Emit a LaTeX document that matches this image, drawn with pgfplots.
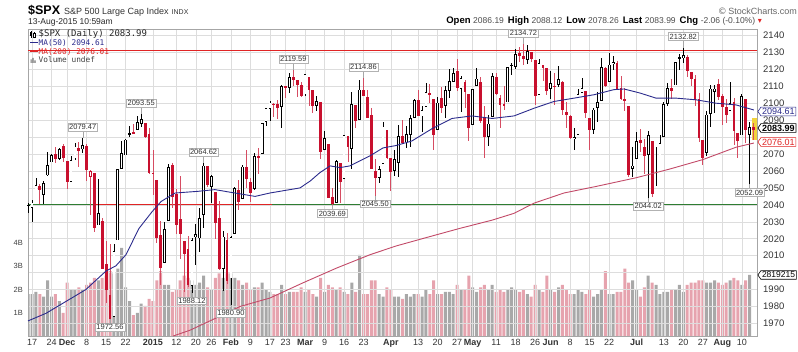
\documentclass[border=0pt]{standalone}
\usepackage{pgfplots}
\pgfplotsset{compat=1.18}
\usepackage{pgfplotstable}
\usetikzlibrary{shapes.symbols}
\usepackage{fontspec}
\setmainfont{Liberation Sans}
\newfontfamily\monofont{DejaVu Sans Mono}
\newfontfamily\symfont{DejaVu Sans}
\newcommand\fs[1]{\fontsize{#1}{#1}\selectfont}

\definecolor{cred}{HTML}{C8102E}
\definecolor{vpink}{HTML}{E6A3AE}
\definecolor{vgray}{HTML}{A8A8A8}
\definecolor{gridc}{HTML}{DDDDDD}
\definecolor{ma50}{HTML}{2B2B8C}
\definecolor{ma200}{HTML}{C24A68}
\definecolor{hred}{HTML}{E02424}
\definecolor{hgreen}{HTML}{2E7D32}
\definecolor{tagyel}{HTML}{F2D33C}

\pgfplotstableread{
i o h l c v
-1 2039.74 2041.09 2035.28 2039.82 1.8
0 2038.29 2043.07 2030.17 2041.32 1.8
1 2041.48 2056.08 2041.48 2051.80 1.9
2 2051.16 2052.14 2040.37 2048.72 1.8
3 2045.87 2053.84 2040.49 2052.75 1.7
4 2057.46 2071.46 2056.75 2063.50 2.4
5 2065.07 2070.17 2065.07 2069.41 1.7
6 2070.15 2074.21 2064.75 2067.03 1.8
7 2067.36 2073.29 2066.62 2072.83 1.5
8 2074.78 2075.76 2065.06 2067.56 1.0
9 2065.78 2065.78 2049.57 2053.44 2.3
10 2053.77 2068.77 2053.77 2066.55 2.0
11 2067.45 2076.28 2066.65 2074.33 2.0
12 2073.64 2077.34 2062.34 2071.92 2.1
13 2072.78 2079.47 2070.81 2075.37 2.0
14 2074.84 2075.78 2054.27 2060.31 2.2
15 2056.55 2060.60 2034.17 2059.82 2.3
16 2058.86 2058.86 2024.26 2026.14 2.5
17 2027.92 2055.53 2027.92 2035.33 2.4
18 2030.36 2032.25 2002.33 2002.33 2.5
19 2005.03 2018.69 1982.26 1989.63 2.6
20 1986.71 2016.89 1972.56 1972.74 2.8
21 1973.77 2016.75 1973.77 2012.89 2.7
22 2018.98 2061.23 2018.98 2061.23 2.9
23 2061.04 2077.85 2061.03 2070.65 3.8
24 2069.28 2078.76 2069.28 2078.54 2.1
25 2081.48 2086.73 2079.77 2082.17 1.5
26 2083.25 2087.56 2081.86 2081.88 0.9
27 2084.30 2092.70 2084.30 2088.77 1.0
28 2087.63 2093.55 2085.75 2090.57 1.4
29 2088.49 2088.49 2079.53 2080.35 1.3
30 2082.11 2085.58 2057.94 2058.90 1.6
31 2058.90 2072.36 2046.04 2058.20 1.5
32 2054.44 2054.44 2017.34 2020.58 2.4
33 2022.15 2030.25 1992.44 2002.61 2.8
34 2005.55 2029.61 2005.55 2025.90 2.2
35 2030.61 2064.08 2030.61 2062.14 2.2
36 2063.45 2064.43 2038.33 2044.81 1.9
37 2046.13 2049.30 2022.58 2028.26 2.0
38 2031.58 2056.93 2008.25 2023.03 2.4
39 2018.40 2018.40 1988.44 2011.27 2.6
40 2013.75 2021.35 1991.47 1992.67 2.5
41 1992.25 2020.46 1988.12 2019.42 2.4
42 2020.76 2028.94 2004.49 2022.55 2.2
43 2020.19 2038.29 2012.04 2032.12 2.3
44 2034.30 2064.62 2026.38 2063.15 2.6
45 2062.98 2062.98 2050.54 2051.82 2.1
46 2050.42 2057.62 2040.97 2057.09 2.0
47 2047.86 2047.86 2019.91 2029.55 2.5
48 2032.34 2042.49 2001.49 2002.16 2.7
49 2002.45 2024.64 1989.18 2021.25 2.5
50 2019.35 2023.32 1993.38 1994.99 2.7
51 1996.67 2021.66 1980.90 2020.85 2.7
52 2022.71 2050.30 2022.71 2050.03 2.5
53 2048.86 2054.74 2036.72 2041.51 2.4
54 2043.45 2063.55 2043.45 2062.52 2.2
55 2062.28 2072.40 2049.97 2055.47 2.3
56 2053.47 2056.16 2041.88 2046.74 2.0
57 2049.38 2070.86 2048.62 2068.59 2.1
58 2068.55 2073.48 2057.99 2068.53 2.1
59 2069.98 2088.53 2069.98 2088.48 2.3
60 2088.78 2097.03 2086.70 2096.99 2.0
61 2096.47 2101.30 2089.80 2100.34 1.9
62 2099.16 2100.23 2092.15 2099.68 1.8
63 2099.25 2102.13 2090.79 2097.45 1.8
64 2097.65 2110.61 2085.44 2110.30 2.2
65 2109.83 2110.05 2103.00 2109.66 1.8
66 2109.10 2117.94 2105.87 2115.48 1.9
67 2115.30 2119.59 2109.89 2113.86 1.9
68 2113.91 2113.91 2103.76 2110.74 1.9
69 2110.88 2112.74 2103.75 2104.50 2.1
70 2105.23 2117.52 2104.50 2117.39 1.9
71 2115.76 2115.76 2098.26 2107.78 2.0
72 2107.72 2107.72 2094.49 2098.53 1.8
73 2098.54 2104.25 2095.22 2101.04 1.7
74 2100.91 2100.91 2067.27 2071.26 2.5
75 2072.25 2083.49 2072.21 2079.43 1.9
76 2076.14 2076.14 2044.16 2044.16 2.2
77 2044.69 2050.08 2039.69 2040.24 2.1
78 2041.10 2066.41 2041.10 2065.95 2.0
79 2064.56 2064.56 2041.17 2053.40 2.1
80 2055.35 2081.41 2055.35 2081.19 1.9
81 2080.59 2080.59 2065.08 2074.28 1.8
82 2072.84 2106.85 2061.23 2099.50 2.3
83 2098.69 2098.69 2085.56 2089.27 1.9
84 2090.32 2113.92 2090.32 2108.10 3.5
85 2107.99 2114.86 2104.42 2104.42 1.8
86 2103.94 2107.63 2091.50 2091.50 1.8
87 2093.10 2097.43 2061.05 2061.05 2.4
88 2059.94 2067.15 2045.50 2056.15 2.4
89 2055.78 2062.83 2052.96 2061.02 1.8
90 2064.11 2088.97 2064.11 2086.24 1.7
91 2084.05 2084.05 2067.04 2067.89 2.1
92 2067.63 2067.63 2048.38 2059.69 2.0
93 2060.03 2072.17 2057.32 2066.96 1.7
94 2064.87 2086.99 2056.52 2080.62 1.7
95 2080.79 2089.81 2076.10 2076.33 1.6
96 2076.94 2086.69 2073.30 2081.90 1.8
97 2081.29 2093.31 2074.29 2091.18 1.7
98 2091.51 2102.61 2091.51 2102.06 1.8
99 2102.03 2107.65 2092.33 2092.43 1.8
100 2092.28 2098.62 2083.24 2095.84 1.7
101 2097.82 2111.91 2097.82 2106.63 2.0
102 2105.96 2111.30 2100.02 2104.99 1.8
103 2102.58 2102.58 2072.37 2081.18 2.4
104 2084.11 2103.94 2084.11 2100.40 1.8
105 2102.82 2109.64 2094.38 2097.29 1.8
106 2098.27 2109.98 2091.05 2107.96 1.9
107 2107.21 2120.49 2103.19 2112.93 1.9
108 2112.80 2120.92 2112.80 2117.69 1.8
109 2119.29 2125.92 2107.04 2108.92 2.2
110 2108.35 2116.04 2094.89 2114.76 2.0
111 2112.49 2113.65 2097.41 2106.85 2.0
112 2105.52 2105.52 2077.59 2085.51 2.6
113 2087.38 2108.41 2087.38 2108.29 2.1
114 2110.23 2120.95 2110.23 2114.49 1.9
115 2112.63 2115.24 2088.46 2089.46 2.1
116 2091.26 2098.42 2067.93 2080.15 2.2
117 2079.96 2092.90 2074.99 2088.00 2.0
118 2092.13 2117.66 2092.13 2116.10 2.2
119 2115.56 2117.69 2104.58 2105.33 1.9
120 2102.87 2105.06 2085.57 2099.12 2.0
121 2099.62 2110.19 2096.04 2098.48 1.9
122 2100.43 2121.45 2100.43 2121.10 2.0
123 2122.07 2123.89 2116.81 2122.73 2.1
124 2121.30 2131.78 2120.01 2129.20 2.0
125 2129.45 2133.02 2124.50 2127.83 1.9
126 2127.79 2134.72 2122.59 2125.85 2.0
127 2125.55 2134.28 2122.95 2130.82 1.8
128 2130.36 2130.36 2124.14 2126.06 1.7
129 2125.34 2125.34 2099.18 2104.20 2.2
130 2105.13 2126.22 2105.13 2123.48 2.0
131 2122.27 2122.27 2112.86 2120.79 1.9
132 2120.66 2120.66 2104.89 2107.39 2.6
133 2108.64 2119.15 2102.54 2111.73 2.0
134 2110.41 2117.59 2099.14 2109.60 1.9
135 2110.64 2121.92 2109.61 2114.07 2.1
136 2112.35 2112.89 2093.23 2095.84 2.2
137 2095.09 2100.99 2085.67 2092.83 2.0
138 2092.34 2093.01 2079.11 2079.28 1.8
139 2079.07 2085.62 2072.14 2080.15 1.8
140 2081.12 2108.50 2081.12 2105.20 2.0
141 2106.24 2115.02 2106.24 2108.86 1.9
142 2107.43 2107.43 2091.33 2094.11 1.8
143 2091.34 2091.34 2072.49 2084.43 2.0
144 2084.26 2097.40 2082.10 2096.29 1.7
145 2097.40 2106.79 2088.86 2100.44 1.8
146 2101.58 2126.65 2101.58 2121.24 2.0
147 2121.06 2121.64 2109.45 2109.99 2.8
148 2112.50 2129.87 2112.50 2122.85 1.8
149 2123.16 2128.03 2119.89 2124.20 1.8
150 2123.65 2125.10 2108.58 2108.58 1.9
151 2109.10 2116.04 2101.78 2102.31 1.9
152 2102.62 2108.92 2095.38 2101.49 2.9
153 2098.63 2098.63 2056.64 2057.64 2.3
154 2061.19 2074.28 2056.32 2063.11 2.4
155 2067.00 2082.78 2067.00 2077.42 2.0
156 2078.03 2085.06 2071.02 2076.78 1.7
157 2073.95 2078.61 2058.40 2068.76 2.1
158 2069.52 2083.74 2044.02 2081.34 2.6
159 2077.66 2077.66 2044.49 2046.68 2.3
160 2049.73 2074.28 2049.73 2051.31 2.2
161 2052.74 2081.31 2052.74 2076.62 1.8
162 2080.03 2100.67 2080.03 2099.60 1.9
163 2099.72 2111.98 2098.18 2108.95 1.9
164 2109.01 2114.14 2102.49 2107.40 2.0
165 2110.55 2124.42 2110.55 2124.29 2.0
166 2126.80 2128.91 2119.88 2126.64 2.2
167 2126.85 2132.82 2123.66 2128.28 1.9
168 2127.55 2128.49 2115.40 2119.21 2.2
169 2118.21 2118.51 2110.00 2114.15 2.3
170 2114.16 2116.87 2098.63 2102.15 2.3
171 2102.24 2106.01 2077.09 2079.65 2.4
172 2078.19 2078.19 2063.52 2067.64 2.4
173 2070.75 2095.60 2069.09 2093.25 2.3
174 2093.52 2110.60 2085.81 2108.57 2.3
175 2106.78 2110.48 2094.08 2108.63 2.4
176 2111.60 2114.24 2102.07 2103.84 2.3
177 2104.49 2105.70 2087.31 2098.04 2.2
178 2097.68 2102.51 2088.60 2093.32 2.3
179 2095.27 2112.66 2095.27 2099.84 2.4
180 2100.75 2103.32 2075.53 2083.56 2.5
181 2082.61 2082.61 2067.91 2077.57 2.4
182 2080.98 2105.35 2080.98 2104.18 2.2
183 2102.66 2102.66 2076.49 2084.07 2.4
184 2081.10 2089.06 2052.09 2086.05 2.63
185 2086.19 2088.12 2078.26 2083.99 0
}\spx

% labelled extremes
\pgfplotstableread{
x y t
13 2079.47 2079.47
28 2093.55 2093.55
44 2064.62 2064.62
67 2119.59 2119.59
85 2114.86 2114.86
126 2134.72 2134.72
167 2132.82 2132.82
}\highs
\pgfplotstableread{
x y t
20 1972.56 1972.56
41 1988.12 1988.12
51 1980.90 1980.90
77 2039.69 2039.69
88 2045.50 2045.50
158 2044.02 2044.02
184 2052.09 2052.09
}\lows

% r = 1 when the close is below the previous close (red), f = 1 when close < open (filled)
\pgfplotstablecreatecol[
  create col/assign first/.code={\pgfkeyssetvalue{/pgfplots/table/create col/next content}{0}},
  create col/assign/.code={%
    \getthisrow{c}\curc
    \getprevrow{c}\prevc
    \pgfmathparse{\curc<\prevc ? 1 : 0}%
    \pgfkeyslet{/pgfplots/table/create col/next content}\pgfmathresult}
]{r}\spx
\pgfplotstablecreatecol[
  create col/assign/.code={%
    \getthisrow{c}\curc
    \getthisrow{o}\curo
    \pgfmathparse{\curc<\curo ? 1 : 0}%
    \pgfkeyslet{/pgfplots/table/create col/next content}\pgfmathresult}
]{f}\spx

\tikzset{
  lbl/.style={draw=black!30, fill=white, draw opacity=1, fill opacity=1, text opacity=1,
    inner sep=1.2pt, font=\fs{7.5}, text=black!80},
}
\pgfplotsset{
  nomark/.style={only marks, mark=*, mark size=0pt,
    mark options={draw opacity=0, fill opacity=0}},
  eb/.style 2 args={nomark, forget plot,
    error bars/y dir=both, error bars/y explicit, error bars/error mark=none,
    error bars/error bar style={draw=#1, line width=#2, draw opacity=1}},
  lblplot/.style={only marks, mark=*, mark size=0pt, mark options={draw=none, fill=none}, forget plot,
    error bars/error mark=none,
    error bars/error bar style={draw=black!35, line width=0.4pt},
    point meta=explicit symbolic, nodes near coords},
}

\begin{document}
\begin{tikzpicture}[x=1pt,y=1pt]
\useasboundingbox (0,0) rectangle (798,351);

% ---------- volume axis ----------
\begin{axis}[
  at={(28pt,15pt)}, anchor=south west, scale only axis,
  width=729pt, height=307pt,
  xmin=-1.03, xmax=185.9, ymin=0, ymax=13.23,
  axis x line=none, axis y line*=left, y axis line style={draw=none},
  ytick={1,2,3,4}, yticklabels={1B,2B,3B,4B},
  major tick length=0pt,
  yticklabel style={font=\fs{7.5}, text=black!75, anchor=east, inner sep=0pt, xshift=-5pt},
]
\addplot[ybar, bar width=3.0pt, bar shift=0pt, draw=none, fill=vgray]
  table[x=i, y expr={(1-\thisrow{r})*\thisrow{v}}]{\spx};
\addplot[ybar, bar width=3.0pt, bar shift=0pt, draw=none, fill=vpink]
  table[x=i, y expr={\thisrow{r}*\thisrow{v}}]{\spx};
\end{axis}

% ---------- price axis ----------
\begin{axis}[
  at={(28pt,15pt)}, anchor=south west, scale only axis,
  width=729pt, height=307pt,
  xmin=-1.03, xmax=185.9, ymin=1962.6, ymax=2143.8,
  clip=false,
  axis line style={draw=black!35, line width=0.6pt},
  ytick={1970,1980,...,2140}, yticklabel pos=right,
  yticklabels={1970,1980,1990,{},2010,2020,2030,2040,2050,2060,2070,{},2090,2100,2110,2120,2130,2140},
  yticklabel style={font=\fs{9.5}, text=black!80, anchor=west, inner sep=0pt, xshift=6pt},
  xtick={0,5,9,14,19,24,31,37,42,46,51,56,61,65,70,75,80,85,92,99,104,109,113,119,124,129,133,138,143,148,155,162,167,172,177,182},
  xticklabels={17,24,\textbf{Dec},8,15,22,\textbf{2015},12,20,26,\textbf{Feb},9,17,23,\textbf{Mar},9,16,23,\textbf{Apr},13,20,27,\textbf{May},11,18,26,\textbf{Jun},8,15,22,\textbf{Jul},13,20,27,\textbf{Aug},10},
  xticklabel style={font=\fs{9}, text=black!80, anchor=north, inner sep=0pt, yshift=-3pt, text height=6.5pt, text depth=0pt},
  major tick length=0pt,
  grid=major, major grid style={draw=gridc, line width=0.5pt},
]
% highlight of the last bar
\addplot[fill=tagyel, draw=none, forget plot] coordinates {(184.55,2078) (185.9,2078) (185.9,2091) (184.55,2091)} -- cycle;
% horizontal reference lines
\addplot[hgreen, line width=1pt, forget plot] coordinates {(-1.03,2040) (185.9,2040)};
\addplot[hred, line width=1pt, forget plot] coordinates {(16.4,2040) (61.5,2040)};
\addplot[hred, line width=1.2pt, forget plot] coordinates {(-1.03,2131) (185.9,2131)};
% wicks
\addplot[eb={black}{0.8pt}] table[x=i, y expr={(\thisrow{h}+\thisrow{l})/2},
  y error expr={(1-\thisrow{r})*(\thisrow{h}-\thisrow{l})/2}]{\spx};
\addplot[eb={cred!75}{0.8pt}] table[x=i, y expr={(\thisrow{h}+\thisrow{l})/2},
  y error expr={\thisrow{r}*(\thisrow{h}-\thisrow{l})/2}]{\spx};
% bodies
\addplot[eb={black}{2.8pt}] table[x=i, y expr={(\thisrow{o}+\thisrow{c})/2},
  y error expr={(1-\thisrow{r})*max(abs(\thisrow{c}-\thisrow{o})/2,0.35)}]{\spx};
\addplot[eb={cred}{2.8pt}] table[x=i, y expr={(\thisrow{o}+\thisrow{c})/2},
  y error expr={\thisrow{r}*max(abs(\thisrow{c}-\thisrow{o})/2,0.35)}]{\spx};
% hollow interiors
\addplot[eb={white}{1.3pt}] table[x=i, y expr={(\thisrow{o}+\thisrow{c})/2},
  y error expr={(1-\thisrow{f})*max(abs(\thisrow{c}-\thisrow{o})/2-0.45,0)}]{\spx};
% moving averages
\addplot[ma50, line width=0.9pt] coordinates {
(-1.03,1971.5) (3.6,1976) (8.7,1983) (13.8,1990) (19,2001) (21.5,2004) (24.1,2010.6) (27.4,2026) (30.8,2036) (33.1,2042) (36.7,2047) (42.6,2048) (46.9,2049) (52,2047) (57.2,2045) (61,2047) (68.7,2050) (71.3,2054) (73.8,2059) (76.4,2063) (79,2062) (81.5,2063) (84.1,2066) (86.7,2069) (90,2073.6) (93.3,2075) (97.4,2077.7) (102.6,2085) (107.7,2091) (112.8,2092.5) (118,2091) (123.6,2092.5) (128.7,2097) (133.8,2101) (139,2103) (144.1,2105) (149.2,2108) (151.8,2108.4) (155.9,2106) (160,2103) (165.1,2103) (170.3,2102) (175.4,2100) (180.5,2099) (185.1,2096)};
\addplot[ma200, line width=0.9pt] coordinates {
(36.2,1962.6) (40.5,1966) (47,1973) (53.3,1980) (61,1985) (69.5,1994) (78.2,2002.8) (86.7,2010.6) (93.3,2015.7) (100.8,2020.5) (109.5,2026) (118,2031) (123.6,2035) (128.7,2041) (136.4,2047) (144.9,2051) (154.9,2056) (163.3,2061) (172,2066.7) (180.5,2074) (185.1,2076.5)};
% labelled highs and lows
\addplot[lblplot, error bars/y dir=plus, error bars/y fixed=4.2,
  nodes near coords style={lbl, anchor=south, yshift=7pt}]
  table[x=x, y=y, meta=t]{\highs};
\addplot[lblplot, error bars/y dir=minus, error bars/y fixed=2.4,
  nodes near coords style={lbl, anchor=north, yshift=-4pt}]
  table[x=x, y=y, meta=t]{\lows};
\end{axis}

% ---------- header ----------
\node[anchor=base west, inner sep=0] at (28,336) {{\fs{12.5}\bfseries \$SPX}\hspace{4pt}{\fs{9}\color{black!80}S\&P 500 Large Cap Index}\hspace{3pt}{\fs{7}\color{black!80}INDX}};
\node[anchor=base west, inner sep=0] at (28,326.5) {\fs{8.5}\color{black!85}13-Aug-2015 10:59am};
\node[anchor=base east, inner sep=0, text=black!60] at (797,336) {\fs{9}{\symfont\char"00A9}\,StockCharts.com};
\node[anchor=base east, inner sep=0] at (762,327) {\fs{9.5}\textbf{Open} {\fs{8.5}\color{black!70}2086.19}\hspace{4pt}\textbf{High} {\fs{8.5}\color{black!70}2088.12}\hspace{4pt}\textbf{Low} {\fs{8.5}\color{black!70}2078.26}\hspace{4pt}\textbf{Last} {\fs{8.5}\color{black!70}2083.99}\hspace{4pt}\textbf{Chg} {\fs{8.5}\color{black!70}-2.06 (-0.10\%)} {\symfont\fs{8}\color{hred}\char"25BE}};

% ---------- legend ----------
\draw[black, line width=0.5pt] (31.2,313.2) -- (31.2,320.2);
\fill[black] (30.2,315) rectangle (32.2,318.6);
\draw[black, line width=0.5pt] (34.4,312.6) -- (34.4,319.4);
\draw[black, fill=white, line width=0.4pt] (33.5,314) rectangle (35.3,317.6);
\node[anchor=base west, inner sep=0] at (38.5,314.5) {\monofont\fs{9}\color{black!85}\$SPX (Daily) 2083.99};
\draw[ma50, line width=1.2pt] (30,308.3) -- (37.5,308.3);
\node[anchor=base west, inner sep=0] at (38.5,305.3) {\monofont\fs{7.8}\color{ma50}MA(50) 2094.61};
\draw[hred, line width=1.2pt] (30,299.2) -- (37.5,299.2);
\node[anchor=base west, inner sep=0] at (38.5,296.3) {\monofont\fs{7.8}\color{hred}MA(200) 2076.01};
\fill[black!55] (30.5,288) rectangle (31.7,291.5) (32.4,288) rectangle (33.6,293) (34.3,288) rectangle (35.5,290.5);
\node[anchor=base west, inner sep=0] at (38.5,288) {\monofont\fs{7.8}\color{black!75}Volume undef};

% ---------- right-hand value tags ----------
\node[shape=signal, signal to=west, signal pointer angle=110, draw=ma50, fill=white, line width=0.6pt, inner sep=1.2pt, anchor=west, font=\fs{9}, text=ma50] at (757.5,239.5) {2094.61};
\node[shape=signal, signal to=west, signal pointer angle=110, draw=black, fill=white, line width=0.7pt, inner sep=1.2pt, anchor=west, font=\fs{9}\bfseries, text=black] at (757.5,223) {2083.99};
\node[shape=signal, signal to=west, signal pointer angle=110, draw=hred, fill=white, line width=0.6pt, inner sep=1.2pt, anchor=west, font=\fs{9}, text=hred] at (757.5,209) {2076.01};
\node[shape=signal, signal to=west, signal pointer angle=110, draw=black, fill=white, line width=0.6pt, inner sep=1.2pt, anchor=west, font=\fs{8.5}, text=black] at (757.5,76) {2819215};
\end{tikzpicture}
\end{document}
